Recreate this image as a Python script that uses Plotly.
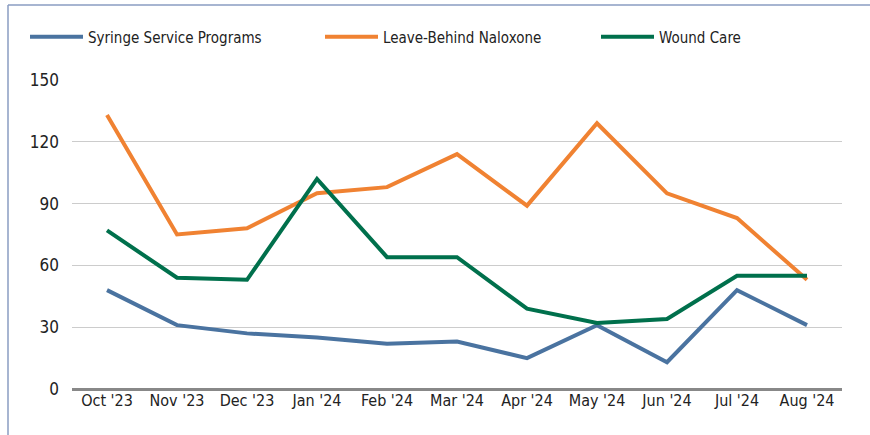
import plotly.graph_objects as go

months = ["Oct '23", "Nov '23", "Dec '23", "Jan '24", "Feb '24", "Mar '24",
          "Apr '24", "May '24", "Jun '24", "Jul '24", "Aug '24"]
syringe = [48, 31, 27, 25, 22, 23, 15, 31, 13, 48, 31]
naloxone = [133, 75, 78, 95, 98, 114, 89, 129, 95, 83, 53]
wound = [77, 54, 53, 102, 64, 64, 39, 32, 34, 55, 55]

series_names = ["Syringe Service Programs", "Leave-Behind Naloxone", "Wound Care"]
series_values = [syringe, naloxone, wound]
series_colors = ["#4A73A0", "#F08232", "#00704C"]
legend_ids = ["legend", "legend2", "legend3"]
legend_px = [25, 320, 596]

y_ticks = [0, 30, 60, 90, 120, 150]

FONT = "Liberation Sans Narrow, DejaVu Sans Condensed, Roboto, sans-serif"

fig = go.Figure()
for name, vals, col, lg in zip(series_names, series_values, series_colors, legend_ids):
    fig.add_trace(go.Scatter(x=months, y=vals, name=name, mode="lines",
                             line=dict(color=col, width=4), legend=lg))

W, H = 870, 435
L, R, T, B = 72, 28, 80, 46
pw, ph = W - L - R, H - T - B

def px_x(x):
    return (x - L) / pw

def px_y(y):
    return (H - B - y) / ph

legend_layouts = {}
for lg, lx in zip(legend_ids, legend_px):
    legend_layouts[lg] = dict(orientation="h", x=px_x(lx), y=px_y(37),
                              xanchor="left", yanchor="middle",
                              font=dict(size=15, color="#222222"),
                              itemwidth=53, bgcolor="rgba(0,0,0,0)")

fig.update_layout(
    width=W, height=H,
    margin=dict(l=L, r=R, t=T, b=B, autoexpand=False),
    paper_bgcolor="white", plot_bgcolor="white",
    font=dict(family=FONT, size=16, color="#222222"),
    showlegend=True,
    xaxis=dict(type="category", range=[-0.5, 10.5], showgrid=False, zeroline=False,
               showline=False, ticks="", tickfont=dict(size=16, color="#222222")),
    yaxis=dict(range=[0, 150], tickvals=y_ticks, showgrid=True, gridcolor="#CCCCCC",
               gridwidth=1, zeroline=True, zerolinecolor="#888888", zerolinewidth=3,
               showline=False, ticks="", ticklabelstandoff=12,
               tickfont=dict(size=17, color="#222222")),
    shapes=[
        dict(type="line", xref="paper", yref="paper", x0=px_x(8), x1=px_x(8),
             y0=px_y(5), y1=px_y(435), line=dict(color="#8A9CC2", width=1.5)),
        dict(type="line", xref="paper", yref="paper", x0=px_x(8), x1=px_x(870),
             y0=px_y(5), y1=px_y(5), line=dict(color="#8A9CC2", width=1.5)),
    ],
    **legend_layouts,
)

fig.write_html("out.html", config={"displayModeBar": False},
               post_script="document.body.style.margin='0';")
